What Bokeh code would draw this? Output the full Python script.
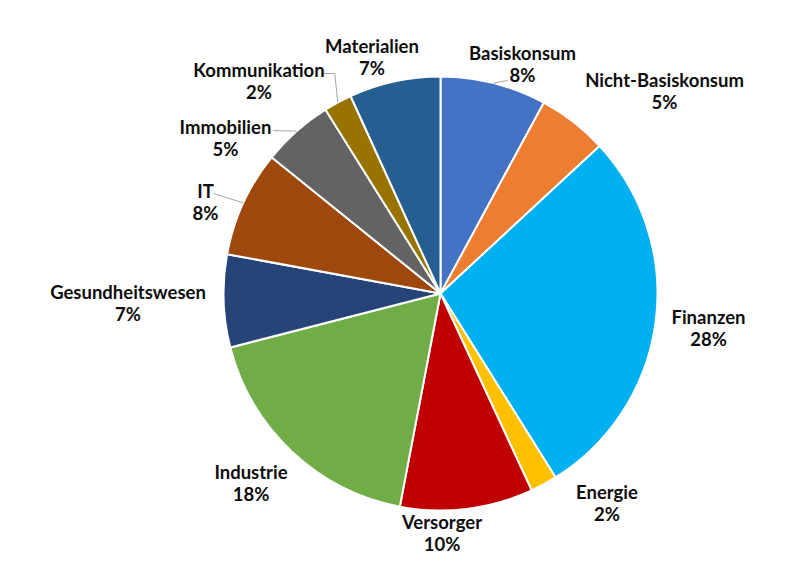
import math
from bokeh.plotting import figure
from bokeh.models import Range1d
from bokeh.core.properties import value
from bokeh.embed import file_html
from bokeh.resources import INLINE

# ---- data ----
sectors = ["Basiskonsum", "Nicht-Basiskonsum", "Finanzen", "Energie", "Versorger",
           "Industrie", "Gesundheitswesen", "IT", "Immobilien", "Kommunikation", "Materialien"]
shares = [7.9, 5.2, 28.0, 2.0, 9.9, 18.0, 6.9, 7.9, 5.3, 2.1, 6.8]
colors = ["#4472C4", "#ED7D31", "#00B0F0", "#FFC000", "#C00000",
          "#70AD47", "#264478", "#9E480E", "#636363", "#997300", "#255E91"]

# ---- layout ----
W, H = 800, 580
CX, CY = 440, H - 293
R = 217
# label centre offsets from the pie centre (screen px, y downwards)
label_offset = [(82, -229.5), (224, -202.5), (268, 34), (166.5, 209), (1.5, 239),
                (-189.5, 189), (-312.5, 9.5), (-235, -92), (-215, -156), (-181.5, -213), (-68.5, -237)]
# leader line end relative to label centre (screen px, y down); None = no leader
leader_end = [(-15, 16.5), None, None, None, None, None, None, (8, -8), (48, -7), (64.5, -7), None]
elbow = [False, False, False, False, False, False, False, False, False, True, False]
LINE_GAP = 11
FONT = "18.5px"

p = figure(width=W, height=H, output_backend="svg", toolbar_location=None,
           x_range=Range1d(0, W), y_range=Range1d(0, H), min_border=0)
p.axis.visible = False
p.grid.visible = False
p.outline_line_color = None
p.background_fill_color = "white"
p.border_fill_color = "white"

total = sum(shares)
starts, ends, mids = [], [], []
acc = 0.0
for s in shares:
    a0 = acc / total * 2 * math.pi
    acc += s
    a1 = acc / total * 2 * math.pi
    starts.append(math.pi / 2 - a0)
    ends.append(math.pi / 2 - a1)
    mids.append((a0 + a1) / 2)

p.wedge(x=CX, y=CY, radius=R, radius_units="screen", start_angle=starts, end_angle=ends,
        direction="clock", fill_color=colors, line_color="white", line_width=2)

lx = [CX + dx for dx, dy in label_offset]
ly = [CY - dy for dx, dy in label_offset]

# leader lines
xs, ys = [], []
for i, le in enumerate(leader_end):
    if le is None:
        continue
    ex = CX + R * math.sin(mids[i])
    ey = CY + R * math.cos(mids[i])
    tx = lx[i] + le[0]
    ty = ly[i] - le[1]
    if elbow[i]:
        xs.append([tx, ex - 3, ex])
        ys.append([ty, ty, ey])
    else:
        xs.append([tx, ex])
        ys.append([ty, ey])
p.multi_line(xs=xs, ys=ys, line_color="#A6A6A6", line_width=1)

pct = [f"{round(s)}%" for s in shares]
p.text(x=lx, y=[y + LINE_GAP for y in ly], text=sectors, text_align="center",
       text_baseline="middle", text_font=value("Lato"), text_font_style="bold",
       text_font_size=FONT, text_color="#0D0D0D")
p.text(x=lx, y=[y - LINE_GAP for y in ly], text=pct, text_align="center",
       text_baseline="middle", text_font=value("Lato"), text_font_style="bold",
       text_font_size=FONT, text_color="#0D0D0D")

open("out.html", "w").write(file_html(p, INLINE))
